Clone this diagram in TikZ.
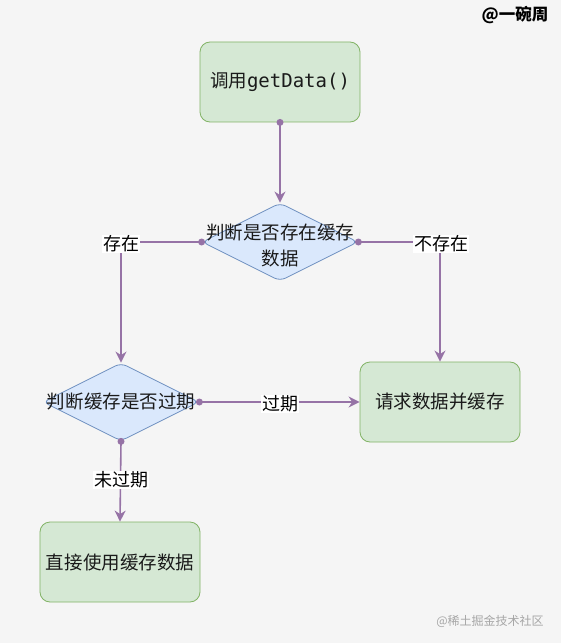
\documentclass[tikz,border=0pt]{standalone}
\usepackage{fontspec}
\newfontfamily\cjk{Noto Sans CJK SC}
\newfontfamily\monof{DejaVu Sans Mono}
\usetikzlibrary{shapes.geometric,arrows.meta}
\definecolor{bgc}{HTML}{F5F5F5}
\definecolor{gfill}{HTML}{D5E8D4}
\definecolor{gline}{HTML}{82B366}
\definecolor{bfill}{HTML}{DAE8FC}
\definecolor{bline}{HTML}{6C8EBF}
\definecolor{ecol}{HTML}{9673A6}
\definecolor{txt}{HTML}{1A1A1A}
\tikzset{
  x=1bp, y=-1bp,
  txtf/.style={font=\cjk\fontsize{18.5bp}{26bp}\selectfont, text=txt},
  gbox/.style={rectangle, rounded corners=10bp, fill=gfill, draw=gline, line width=0.8bp,
    minimum width=160bp, minimum height=80bp, inner sep=0pt, txtf, align=center},
  dia/.style={diamond, fill=bfill, draw=bline, line width=0.8bp, rounded corners=6bp,
    minimum width=156bp, minimum height=78bp, inner sep=0pt},
  difont/.style={txtf, align=center, inner sep=0pt},
  edge/.style={draw=ecol, line width=1.6bp, -{Stealth[length=11bp,width=11bp,inset=3.5bp]}},
  elab/.style={fill=white, inner sep=1bp, font=\cjk\fontsize{18bp}{20bp}\selectfont, text=black},
  dot/.style={fill=ecol}
}
\begin{document}
\begin{tikzpicture}
\fill[bgc] (0,0) rectangle (561,643);
\useasboundingbox (0,0) rectangle (561,643);

\node[gbox] (start) at (280,82) {调用{\monof\fontsize{19bp}{22bp}\selectfont getData()}};
\node[dia] (d1) at (280,242) {};
\node[difont] (d1t) at (280,245) {判断是否存在缓存\\数据};
\node[dia] (d2) at (121,402) {};
\node[difont] (d2t) at (121,402) {判断缓存是否过期};
\node[gbox] (req) at (440,402) {请求数据并缓存};
\node[gbox] (use) at (120,562) {直接使用缓存数据};

\coordinate (cl) at (121,242);
\coordinate (cr) at (440,242);

\draw[edge] (start.south) -- (d1.north);
\draw[edge] (d1.west) -- (cl) -- (d2.north);
\draw[edge] (d1.east) -- (cr) -- (req.north);
\draw[edge] (d2.east) -- (req.west);
\draw[edge] (d2.south) -- (use.north);

\fill[dot] (start.south) circle (3.5bp);
\fill[dot] (d1.west) circle (3.5bp);
\fill[dot] (d1.east) circle (3.5bp);
\fill[dot] (d2.east) circle (3.5bp);
\fill[dot] (d2.south) circle (3.5bp);

\node[elab] (l1) at (121,244) {存在};
\node[elab] (l2) at (441,244) {不存在};
\node[elab] (l3) at (280,404) {过期};
\node[elab] (l4) at (121,480) {未过期};

\node[font=\cjk\bfseries\fontsize{16.5bp}{18bp}\selectfont, text=black] (wm1) at (515,15) {@一碗周};
\node[font=\cjk\fontsize{12bp}{14bp}\selectfont, text=black!35] (wm2) at (490,621) {@稀土掘金技术社区};
\end{tikzpicture}
\end{document}
